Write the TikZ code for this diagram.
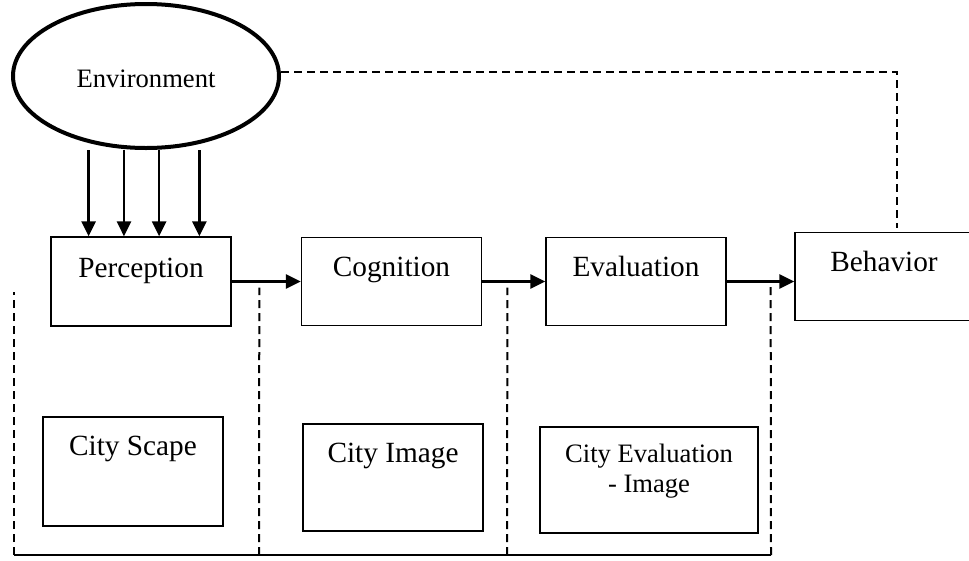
\documentclass[tikz,border=0pt]{standalone}
\usepackage{fontspec}
\setmainfont{Liberation Serif}
\usetikzlibrary{shapes.geometric,arrows.meta,calc}

\tikzset{
  stagebox/.style={draw, line width=1.3pt, inner sep=0pt},
  label29/.style={font=\fontsize{29.3}{32}\selectfont, anchor=base, inner sep=0pt},
  label26/.style={font=\fontsize{26.6}{30}\selectfont, anchor=base, inner sep=0pt, align=center},
  flow/.style={line width=2.6pt, -{Triangle[length=15pt,width=14pt]}},
  feedback/.style={line width=2pt, dash pattern=on 8pt off 5pt},
  baseline rule/.style={line width=2.2pt},
}

\begin{document}
\begin{tikzpicture}[x=1pt, y=-1pt]
\useasboundingbox (0,0) rectangle (969,560);
\clip (0,0) rectangle (969,560);

% environment
\node[ellipse, draw, line width=4pt, minimum width=266pt, minimum height=144pt, inner sep=0pt]
  (env) at (146,76) {};
\node[label26] (envT) at (146,87) {Environment};

% stage boxes
\node[stagebox, minimum width=180pt, minimum height=89pt] (perc) at (141,281.5) {};
\node[stagebox, minimum width=180pt, minimum height=88pt] (cog)  at (391.5,281.5) {};
\node[stagebox, minimum width=180pt, minimum height=88pt] (eval) at (636,281.5) {};
\node[stagebox, minimum width=204pt, minimum height=88pt] (beh)  at (897,276.5) {};
\node[label29] (percT) at (141,277) {Perception};
\node[label29] (cogT)  at (391.5,276) {Cognition};
\node[label29] (evalT) at (636,276) {Evaluation};
\node[label29] (behT)  at (884,271) {Behavior};

% city boxes
\node[stagebox, minimum width=180pt, minimum height=109pt] (scape) at (133,471.5) {};
\node[stagebox, minimum width=180pt, minimum height=107pt] (image) at (393,477.5) {};
\node[stagebox, minimum width=218pt, minimum height=106pt] (evimg) at (649,480) {};
\node[label29] (scapeT) at (133,455) {City Scape};
\node[label29] (imageT) at (393,462) {City Image};
\node[label26] (evimgA) at (649,462) {City Evaluation};
\node[label26] (evimgB) at (649,492) {- Image};

% environment feeds perception
\foreach \f [count=\i] in {0.211,0.406,0.6,0.822} {
  \coordinate (in\i) at ($(perc.north west)!\f!(perc.north east)$);
  \draw[flow] (env.south -| in\i) -- (in\i);
}

% stage sequence
\draw[flow] (perc.east) -- (cog.west);
\draw[flow] (cog.east) -- (eval.west);
\draw[flow] (eval.east) -- (eval.east -| beh.west);

% feedback from behavior to environment
\coordinate (fbTop) at ($(beh.north)+(0,-4)$);
\draw[feedback] ([yshift=4pt]env.east) -| (fbTop);

% stage brackets
\coordinate (b0) at (14,555);
\coordinate (b1) at (259,555);
\coordinate (b2) at (507,555);
\coordinate (b3) at (771,555);
\draw[baseline rule] (b0) -- (b3);
\draw[feedback] (b0) -- (14,292);
\draw[feedback] (b1) -- ($(perc.east)!0.4!(cog.west)+(0,6)$);
\draw[feedback] (b2) -- ($(cog.east)!0.4!(eval.west)+(0,6)$);
\draw[feedback] (b3) -- ($(eval.east)!0.65!(eval.east -| beh.west)+(0,4)$);
\end{tikzpicture}
\end{document}
